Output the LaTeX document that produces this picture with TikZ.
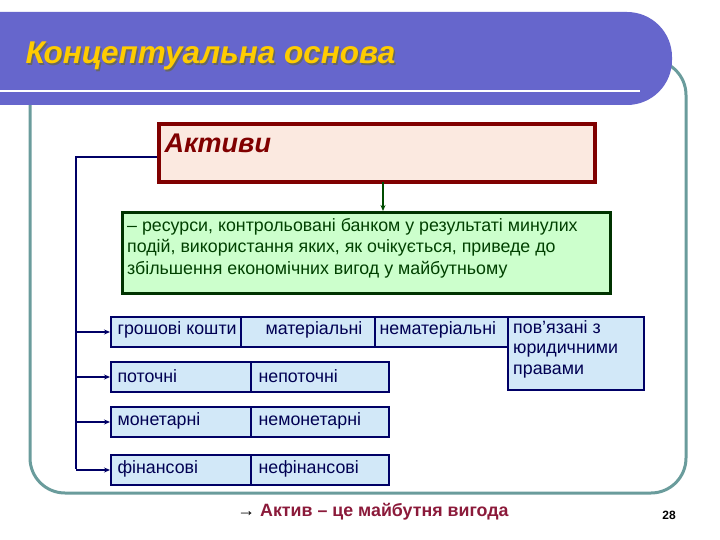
\documentclass[tikz,border=0pt]{standalone}
\usepackage{fontspec}
\setmainfont{Liberation Sans}
\usetikzlibrary{arrows.meta}
\definecolor{band}{HTML}{6666CC}
\definecolor{frame}{HTML}{6A9C9C}
\definecolor{dred}{HTML}{800000}
\definecolor{pinkf}{HTML}{FBE9E0}
\definecolor{greenf}{HTML}{CCFFCC}
\definecolor{bluef}{HTML}{D2E8F8}
\definecolor{navy}{HTML}{000066}
\definecolor{tit}{HTML}{FFCC00}
\definecolor{foot}{HTML}{8B1A3A}
\begin{document}
\begin{tikzpicture}[x=1pt,y=-1pt,
  cell/.style={draw=navy,line width=2pt,fill=bluef,minimum height=30pt,anchor=north west,inner sep=0pt},
  ctext/.style={font=\fontsize{17.8}{19}\selectfont,text=navy!80!black,anchor=west},
  conn/.style={draw=navy,line width=1.6pt},
  arr/.style={conn,-{Stealth[length=6pt,width=5pt]}}]
\useasboundingbox (0,0) rectangle (720,540);
\fill[white] (0,0) rectangle (720,540);
% frame
\draw[frame,line width=3pt,rounded corners=35pt] (30,60) rectangle (686,493);
% header band
\fill[band,rounded corners=45pt] (-60,12) rectangle (672,105);
\fill[band] (0,12) rectangle (100,105);
\draw[white,line width=2pt] (0,91) -- (640,91);
\node[anchor=west,font=\fontsize{31.5}{34}\selectfont\bfseries\itshape,text=black!60] (titsh) at (23.5,57.5) {Концептуальна основа};
\node[anchor=west,font=\fontsize{31.5}{34}\selectfont\bfseries\itshape,text=tit] (title) at (22,56) {Концептуальна основа};
% Aktyvy box
\node[draw=dred,line width=4pt,fill=pinkf,minimum width=436pt,minimum height=58pt,anchor=north west,inner sep=0pt] (akt) at (157,122) {};
\node[anchor=west,font=\fontsize{27}{30}\selectfont\bfseries\itshape,text=dred] (akttxt) at (161,143) {Активи};
% green box
\node[draw=black!80!green,line width=3pt,fill=greenf,minimum width=488pt,minimum height=81pt,anchor=north west,inner sep=0pt] (def) at (121,211) {};
\node[anchor=north west,align=left,font=\fontsize{17.8}{21.5}\selectfont,text=black!75!green,inner sep=0pt] (deftxt) at (127,218) {– ресурси, контрольовані банком у результаті минулих\\подій, використання яких, як очікується, приведе до\\збільшення економічних вигод у майбутньому};
\draw[arr,draw=black!70!green] (383,182) -- (def.north -| 383,0);
% cells
\node[cell,minimum width=130pt] (c11) at (110,316) {};
\node[cell,minimum width=134pt] (c12) at (240,316) {};
\node[cell,minimum width=133pt] (c13) at (374,316) {};
\node[cell,minimum width=136pt,minimum height=73pt] (c14) at (507,316) {};
\node[ctext] at (114,330) {грошові кошти};
\node[ctext] at (262,330) {матеріальні};
\node[ctext] at (376,330) {нематеріальні};
\node[anchor=north west,align=left,font=\fontsize{17.8}{20.5}\selectfont,text=navy!80!black,inner sep=0pt] at (513,320) {пов’язані з\\юридичними\\правами};
\node[cell,minimum width=140pt] (c21) at (110,361) {};
\node[cell,minimum width=138pt] (c22) at (250,361) {};
\node[ctext] at (114,376) {поточні};
\node[ctext] at (255,376) {непоточні};
\node[cell,minimum width=140pt] (c31) at (110,406) {};
\node[cell,minimum width=138pt] (c32) at (250,406) {};
\node[ctext] at (114,421) {монетарні};
\node[ctext] at (255,421) {немонетарні};
\node[cell,minimum width=140pt] (c41) at (110,454) {};
\node[cell,minimum width=138pt] (c42) at (250,454) {};
\node[ctext] at (114,469) {фінансові};
\node[ctext] at (255,469) {нефінансові};
% connectors
\coordinate (lt) at (76,157);
\coordinate (lb) at (76,469);
\draw[conn] (akt.west |- lt) -- (lt) -- (lb);
\draw[arr] (c11.west -| lt) -- (c11.west);
\draw[arr] (c21.west -| lt) -- (c21.west);
\draw[arr] (c31.west -| lt) -- (c31.west);
\draw[arr] (c41.west -| lt) -- (c41.west);
% footer
\node[font=\fontsize{17.8}{20}\selectfont\bfseries,text=foot] (foot) at (373,512) {\textcolor{black}{\normalfont →} Актив – це майбутня вигода};
\node[font=\fontsize{12}{14}\selectfont\bfseries] (pg) at (669,515) {28};
\end{tikzpicture}
\end{document}
